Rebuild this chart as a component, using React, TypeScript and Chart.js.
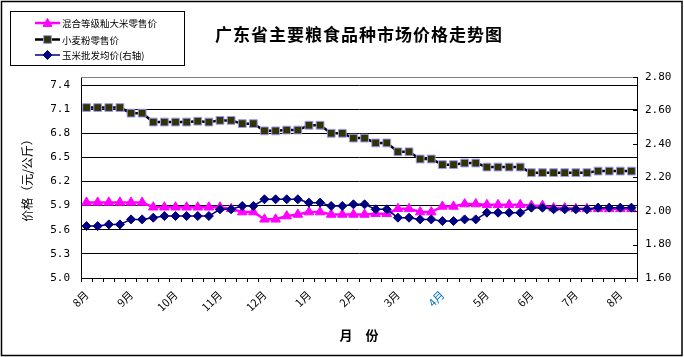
import React, { useEffect, useRef } from 'react';
import { Chart, registerables } from 'chart.js';

Chart.register(...registerables);

// ---- data ----
const monthLabels = ['8月', '9月', '10月', '11月', '12月', '1月', '2月', '3月', '4月', '5月', '6月', '7月', '8月'];
const weeksPerMonthLabel = 4;

const riceRetail = [
  5.94, 5.94, 5.94, 5.94, 5.94, 5.94, 5.88, 5.88, 5.88, 5.88,
  5.88, 5.88, 5.88, 5.86, 5.82, 5.82, 5.73, 5.73, 5.77, 5.79,
  5.82, 5.82, 5.79, 5.79, 5.79, 5.79, 5.80, 5.80, 5.86, 5.86,
  5.82, 5.82, 5.89, 5.89, 5.92, 5.92, 5.91, 5.91, 5.91, 5.91,
  5.90, 5.90, 5.87, 5.87, 5.86, 5.86, 5.86, 5.86, 5.86, 5.86,
];
const wheatFlourRetail = [
  7.12, 7.12, 7.12, 7.12, 7.05, 7.05, 6.94, 6.94, 6.94, 6.94,
  6.95, 6.94, 6.96, 6.96, 6.92, 6.92, 6.83, 6.83, 6.84, 6.84,
  6.90, 6.90, 6.80, 6.80, 6.74, 6.74, 6.68, 6.68, 6.57, 6.57,
  6.48, 6.48, 6.41, 6.41, 6.43, 6.43, 6.38, 6.38, 6.38, 6.38,
  6.31, 6.31, 6.31, 6.31, 6.31, 6.31, 6.33, 6.33, 6.33, 6.33,
];
const cornWholesale = [
  1.91, 1.91, 1.92, 1.92, 1.95, 1.95, 1.96, 1.97, 1.97, 1.97,
  1.97, 1.97, 2.01, 2.01, 2.03, 2.03, 2.07, 2.07, 2.07, 2.07,
  2.05, 2.05, 2.03, 2.03, 2.04, 2.04, 2.01, 2.01, 1.96, 1.96,
  1.95, 1.95, 1.94, 1.94, 1.95, 1.95, 1.99, 1.99, 1.99, 1.99,
  2.02, 2.02, 2.01, 2.01, 2.01, 2.01, 2.02, 2.02, 2.02, 2.02,
];

const leftTicks = [5.0, 5.3, 5.6, 5.9, 6.2, 6.5, 6.8, 7.1, 7.4];
const leftMin = 5.0;
const leftMax = 7.5;
const rightTicks = [1.6, 1.8, 2.0, 2.2, 2.4, 2.6, 2.8];
const rightMin = 1.6;
const rightMax = 2.8;

const categories = riceRetail.map((_, i) =>
  i % weeksPerMonthLabel === 0 ? monthLabels[i / weeksPerMonthLabel] ?? '' : ''
);

const titleText = '广东省主要粮食品种市场价格走势图';
const yTitleText = '价格（元/公斤）';
const xTitleText = '月　份';

const CJK = "'Noto Sans CJK SC', 'Noto Sans', sans-serif";
const MONO = "'DejaVu Sans Mono', 'Liberation Mono', monospace";

function drawMarker(ctx: CanvasRenderingContext2D, style: string, x: number, y: number, r: number, fill: string, stroke: string) {
  ctx.save();
  ctx.beginPath();
  if (style === 'triangle') {
    ctx.moveTo(x, y - r);
    ctx.lineTo(x + r, y + r * 0.75);
    ctx.lineTo(x - r, y + r * 0.75);
    ctx.closePath();
  } else if (style === 'rect') {
    const s = r * Math.SQRT1_2;
    ctx.rect(x - s, y - s, 2 * s, 2 * s);
  } else {
    ctx.moveTo(x, y - r);
    ctx.lineTo(x + r, y);
    ctx.lineTo(x, y + r);
    ctx.lineTo(x - r, y);
    ctx.closePath();
  }
  ctx.fillStyle = fill;
  ctx.fill();
  ctx.strokeStyle = stroke;
  ctx.lineWidth = 1;
  ctx.stroke();
  ctx.restore();
}

const decorPlugin = {
  id: 'decor',
  beforeDraw(chart: any) {
    const { ctx, width, height } = chart;
    ctx.save();
    ctx.fillStyle = '#ffffff';
    ctx.fillRect(0, 0, width, height);
    ctx.restore();
  },
  afterDraw(chart: any) {
    const { ctx, chartArea, width, height } = chart;
    ctx.save();
    // plot area top border
    ctx.strokeStyle = '#808080';
    ctx.lineWidth = 1;
    ctx.beginPath();
    ctx.moveTo(chartArea.left, Math.round(chartArea.top) + 0.5);
    ctx.lineTo(chartArea.right, Math.round(chartArea.top) + 0.5);
    ctx.stroke();

    // inward tick marks of right axis
    const y1 = chart.scales.y1;
    ctx.strokeStyle = '#000';
    ctx.beginPath();
    y1.ticks.forEach((t: any) => {
      const py = Math.round(y1.getPixelForValue(t.value)) + 0.5;
      ctx.moveTo(chartArea.right - 4, py);
      ctx.lineTo(chartArea.right, py);
    });
    ctx.stroke();

    // title
    ctx.fillStyle = '#000';
    ctx.font = `bold 17px ${CJK}`;
    (ctx as any).letterSpacing = '1px';
    ctx.textAlign = 'center';
    ctx.textBaseline = 'middle';
    ctx.fillText(titleText, (chartArea.left + chartArea.right) / 2, 35);
    (ctx as any).letterSpacing = '0px';

    // legend
    const lx = 10.5, ly = 11.5, lw = 174, lh = 54;
    ctx.strokeStyle = '#000';
    ctx.lineWidth = 1;
    ctx.strokeRect(lx, ly, lw, lh);
    const rows = [23, 39.5, 55];
    chart.data.datasets.forEach((ds: any, i: number) => {
      const y = rows[i];
      ctx.strokeStyle = ds.borderColor;
      ctx.lineWidth = ds.borderWidth;
      ctx.beginPath();
      ctx.moveTo(35, y);
      ctx.lineTo(60, y);
      ctx.stroke();
      drawMarker(ctx, ds.pointStyle, 47.5, y, ds.pointStyle === 'rect' ? 5.5 : 4.5, ds.pointBackgroundColor, ds.pointBorderColor);
      ctx.fillStyle = '#000';
      ctx.font = `9.5px ${CJK}`;
      ctx.textAlign = 'left';
      ctx.textBaseline = 'middle';
      ctx.fillText(ds.label, 62, y + 0.5);
    });

    // outer chart border
    ctx.strokeStyle = '#000';
    ctx.lineWidth = 1.5;
    ctx.strokeRect(1.5, 1.5, width - 3.5, height - 3);
    ctx.restore();
  },
};

export default function App() {
  const canvasRef = useRef<HTMLCanvasElement>(null);

  useEffect(() => {
    document.body.style.margin = '0';
    const canvas = canvasRef.current;
    if (!canvas) return;
    const chart = new Chart(canvas, {
      type: 'line',
      data: {
        labels: categories,
        datasets: [
          {
            label: '混合等级籼大米零售价',
            data: riceRetail,
            yAxisID: 'y',
            borderColor: '#FF00FF',
            backgroundColor: '#FF00FF',
            borderWidth: 2.5,
            pointStyle: 'triangle',
            pointRadius: 5.5,
            pointBackgroundColor: '#FF00FF',
            pointBorderColor: '#FF00FF',
            pointBorderWidth: 1,
            tension: 0,
            order: 3,
          },
          {
            label: '小麦粉零售价',
            data: wheatFlourRetail,
            yAxisID: 'y',
            borderColor: '#000000',
            backgroundColor: '#333300',
            borderWidth: 2.5,
            pointStyle: 'rect',
            pointRadius: 5.5,
            pointBackgroundColor: '#333300',
            pointBorderColor: '#9999FF',
            pointBorderWidth: 1,
            tension: 0,
            order: 2,
          },
          {
            label: '玉米批发均价(右轴)',
            data: cornWholesale,
            yAxisID: 'y1',
            borderColor: '#000080',
            backgroundColor: '#000080',
            borderWidth: 1.5,
            pointStyle: 'rectRot',
            pointRadius: 4.5,
            pointBackgroundColor: '#000080',
            pointBorderColor: '#000080',
            pointBorderWidth: 1,
            tension: 0,
            order: 1,
          },
        ] as any,
      },
      options: {
        responsive: false,
        animation: false,
        events: [],
        layout: { padding: { top: 77, left: 16, right: 0, bottom: 10 } },
        plugins: {
          legend: { display: false },
          tooltip: { enabled: false },
          title: { display: false },
        },
        scales: {
          x: {
            type: 'category',
            offset: true,
            grid: {
              offset: true,
              drawOnChartArea: false,
              drawTicks: true,
              tickLength: 4,
              color: '#000',
              tickColor: '#000',
            },
            border: { display: true, color: '#000', width: 1 },
            ticks: {
              autoSkip: false,
              minRotation: 45,
              maxRotation: 45,
              padding: 6,
              font: { family: CJK, size: 11 },
              color: (c: any) => (c.tick && c.tick.label === '4月' ? '#0070C0' : '#000'),
            },
            title: {
              display: true,
              text: xTitleText,
              color: '#000',
              font: { family: CJK, size: 13, weight: 'bold' },
              padding: { top: 0, bottom: 4 },
            },
            afterFit: (s: any) => {
              s.height = 69;
            },
          },
          y: {
            type: 'linear',
            position: 'left',
            min: leftMin,
            max: leftMax,
            afterBuildTicks: (s: any) => {
              s.ticks = leftTicks.map((v) => ({ value: v }));
            },
            grid: { color: '#000', lineWidth: 1, drawTicks: false },
            border: { display: true, color: '#000', width: 1 },
            ticks: {
              padding: 11,
              color: '#000',
              font: { family: MONO, size: 11 },
              callback: (v: any) => Number(v).toFixed(1),
            },
            title: {
              display: true,
              text: yTitleText,
              color: '#000',
              font: { family: CJK, size: 12 },
              padding: { top: 4, bottom: 0 },
            },
            afterFit: (s: any) => {
              s.width = 65;
            },
          },
          y1: {
            type: 'linear',
            position: 'right',
            min: rightMin,
            max: rightMax,
            afterBuildTicks: (s: any) => {
              s.ticks = rightTicks.map((v) => ({ value: v }));
            },
            grid: { drawOnChartArea: false, drawTicks: false },
            border: { display: true, color: '#000', width: 1 },
            ticks: {
              padding: 8,
              color: '#000',
              font: { family: MONO, size: 11 },
              callback: (v: any) => Number(v).toFixed(2),
            },
            afterFit: (s: any) => {
              s.width = 47;
            },
          },
        },
      } as any,
      plugins: [decorPlugin],
    });
    return () => chart.destroy();
  }, []);

  return (
    <div style={{ width: 684, height: 357 }}>
      <canvas ref={canvasRef} width={684} height={357} style={{ display: 'block', width: 684, height: 357 }} />
    </div>
  );
}
